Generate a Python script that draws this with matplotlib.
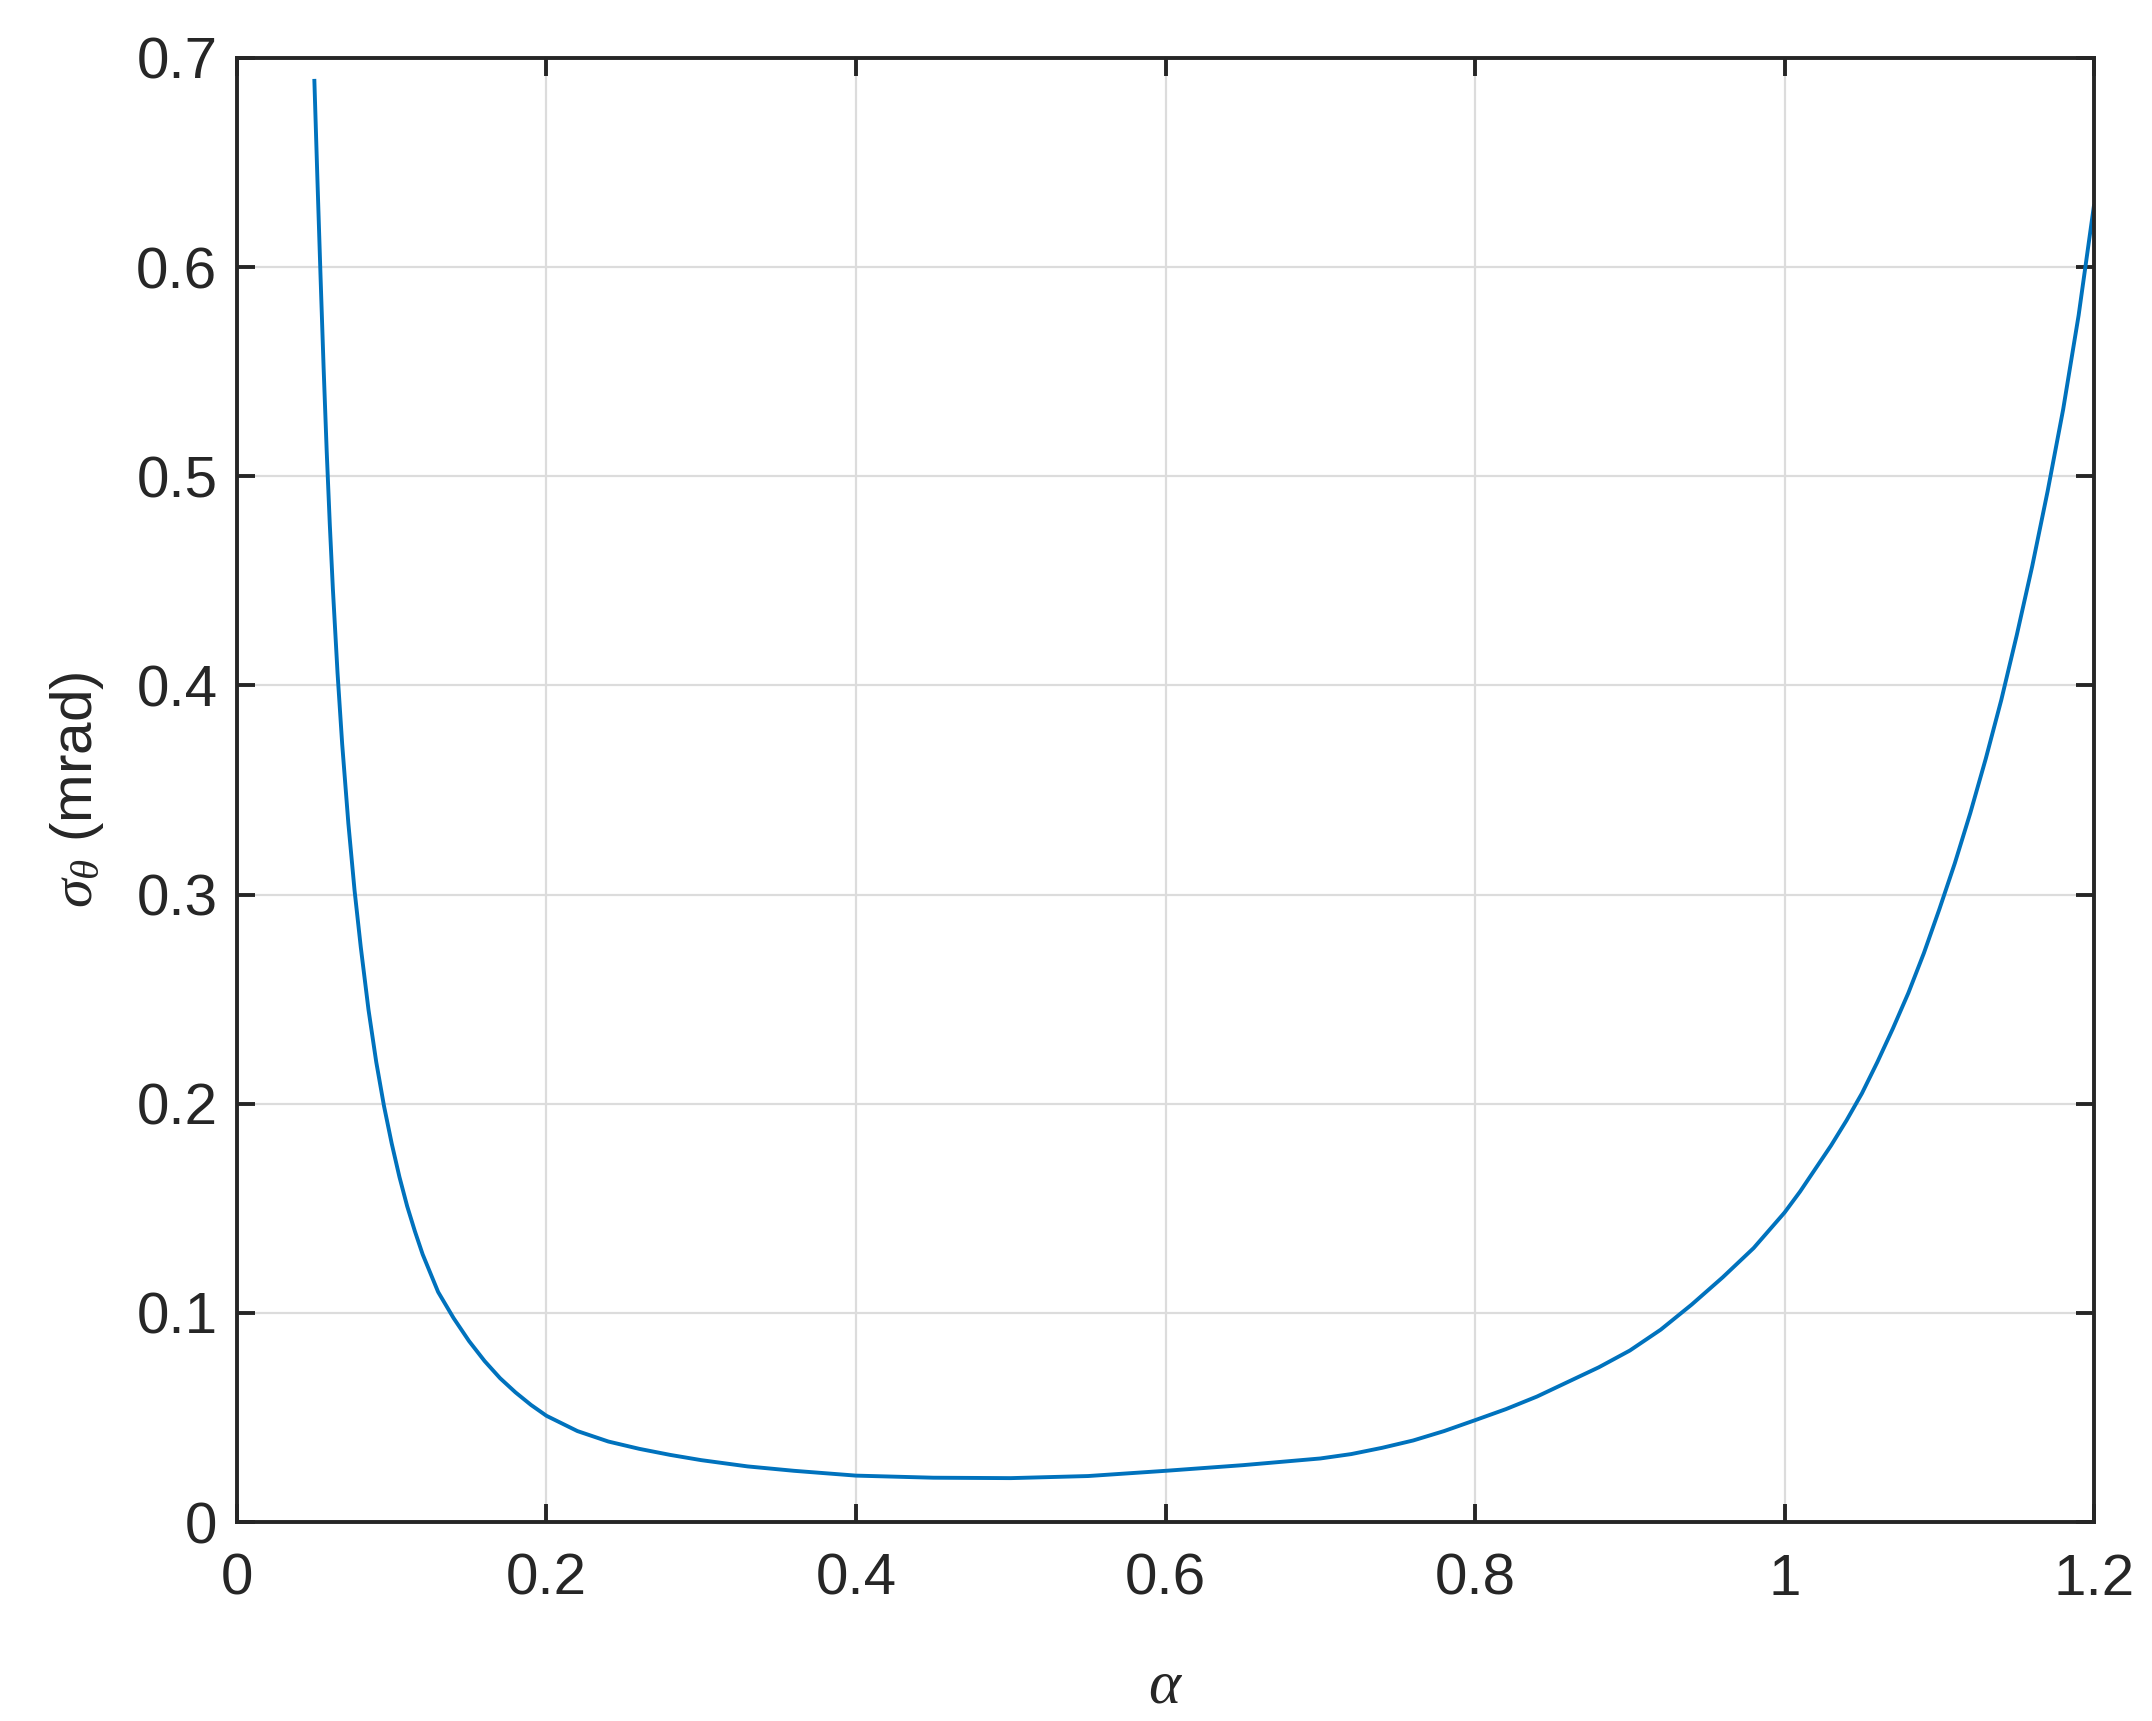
import matplotlib
matplotlib.use("Agg")
import matplotlib.pyplot as plt

# Data
alpha = [0.050, 0.052, 0.054, 0.056, 0.058, 0.060, 0.062, 0.065, 0.068, 0.072,
         0.076, 0.080, 0.085, 0.090, 0.095, 0.100, 0.105, 0.110, 0.115, 0.120,
         0.130, 0.140, 0.150, 0.160, 0.170, 0.180, 0.190, 0.200, 0.220, 0.240,
         0.260, 0.280, 0.300, 0.330, 0.360, 0.400, 0.450, 0.500, 0.550, 0.600,
         0.650, 0.700, 0.720, 0.740, 0.760, 0.780, 0.800, 0.820, 0.840, 0.860,
         0.880, 0.900, 0.920, 0.940, 0.960, 0.980, 1.000, 1.010, 1.020, 1.030,
         1.040, 1.050, 1.060, 1.070, 1.080, 1.090, 1.100, 1.110, 1.120, 1.130,
         1.140, 1.150, 1.160, 1.170, 1.180, 1.190, 1.200]
sigma = [0.690, 0.642, 0.596, 0.552, 0.512, 0.477, 0.446, 0.406, 0.372, 0.334,
         0.302, 0.275, 0.245, 0.220, 0.199, 0.181, 0.165, 0.151, 0.139, 0.128,
         0.110, 0.0975, 0.0865, 0.0770, 0.0688, 0.0620, 0.0560, 0.0508, 0.0435, 0.0385,
         0.0350, 0.0321, 0.0296, 0.0266, 0.0245, 0.0222, 0.0212, 0.0210, 0.0220, 0.0245,
         0.0272, 0.0304, 0.0325, 0.0355, 0.0390, 0.0435, 0.0487, 0.0540, 0.0600, 0.0670,
         0.0740, 0.0820, 0.0920, 0.1040, 0.1170, 0.1310, 0.1480, 0.158, 0.169, 0.180,
         0.192, 0.205, 0.220, 0.236, 0.253, 0.272, 0.293, 0.315, 0.339, 0.365,
         0.393, 0.424, 0.457, 0.493, 0.532, 0.577, 0.630]

xticks = [0, 0.2, 0.4, 0.6, 0.8, 1.0, 1.2]
xticklabels = ["0", "0.2", "0.4", "0.6", "0.8", "1", "1.2"]
yticks = [0, 0.1, 0.2, 0.3, 0.4, 0.5, 0.6, 0.7]
yticklabels = ["0", "0.1", "0.2", "0.3", "0.4", "0.5", "0.6", "0.7"]

plt.rcParams['font.family'] = ['Liberation Sans', 'DejaVu Sans']
plt.rcParams['mathtext.fontset'] = 'custom'
plt.rcParams['mathtext.it'] = 'Liberation Serif:italic'
plt.rcParams['mathtext.rm'] = 'Liberation Sans'

dark = '#262626'
fig = plt.figure(figsize=(21.52, 17.21), dpi=100)
ax = fig.add_axes([0.1101, 0.1156, 0.8630, 0.8507])

ax.plot(alpha, sigma, color='#0072BD', linewidth=2.8,
        solid_joinstyle='round', solid_capstyle='butt')

ax.set_xlim(0, 1.2)
ax.set_ylim(0, 0.7)
ax.set_xticks(xticks)
ax.set_xticklabels(xticklabels)
ax.set_yticks(yticks)
ax.set_yticklabels(yticklabels)

ax.grid(True, color='#dcdcdc', linewidth=1.6)
ax.set_axisbelow(True)

for s in ax.spines.values():
    s.set_color(dark)
    s.set_linewidth(2.8)

ax.tick_params(direction='in', length=13, width=2.8, colors=dark,
               labelsize=42, top=True, right=True, labelcolor=dark)
ax.tick_params(axis='x', pad=22)
ax.tick_params(axis='y', pad=14)

ax.set_ylabel(r'$\sigma_\theta$ (mrad)', fontsize=42, color=dark, labelpad=22)
fig.text(0.5415, 0.011, r'$\alpha$', fontsize=44, color=dark, ha='center', va='baseline')

fig.savefig('out.png', dpi=100, facecolor='white')
